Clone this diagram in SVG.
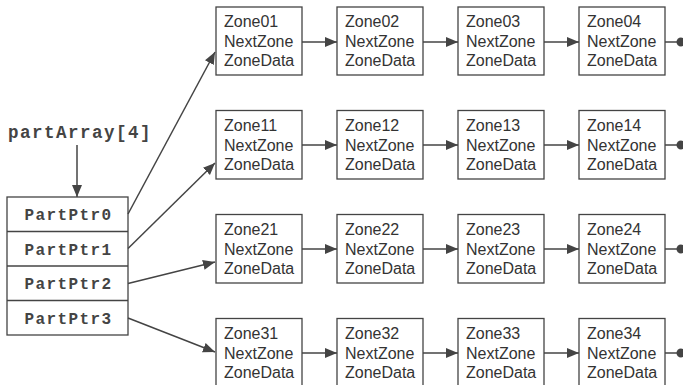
<svg xmlns="http://www.w3.org/2000/svg" width="683" height="385" viewBox="0 0 683 385">
<defs>
<style>
.box{fill:#fff;stroke:#444;stroke-width:1.3}
.zt{font-family:"Liberation Sans",Arial,sans-serif;font-size:16px;fill:#333}
.mono{font-family:"Liberation Mono","Courier New",monospace;font-weight:bold;fill:#444}
.cell{font-size:16px;letter-spacing:1.4px}
.lbl{font-size:17.5px;letter-spacing:1.5px}
.ln{stroke:#444;stroke-width:1.5;fill:none}
.arr{marker-end:url(#ah)}
.nul{marker-end:url(#dot)}
</style>
<marker id="ah" markerUnits="userSpaceOnUse" markerWidth="14" markerHeight="12" refX="12" refY="5" orient="auto"><path d="M0,0 L12,5 L0,10 z" fill="#444"/></marker>
<marker id="dot" markerUnits="userSpaceOnUse" markerWidth="10" markerHeight="10" refX="1" refY="5" orient="auto"><circle cx="5" cy="5" r="4.5" fill="#444"/></marker>
</defs>

<g id="label"><text class="mono lbl" x="8" y="138">partArray[4]</text></g>

<g id="partArray">
<rect class="box" x="7" y="197" width="121" height="138"/>
<line class="ln" x1="7" y1="231.5" x2="128" y2="231.5" style="stroke-width:1.3"/>
<line class="ln" x1="7" y1="266" x2="128" y2="266" style="stroke-width:1.3"/>
<line class="ln" x1="7" y1="300.5" x2="128" y2="300.5" style="stroke-width:1.3"/>
<text class="mono cell" x="68.5" y="220" text-anchor="middle">PartPtr0</text>
<text class="mono cell" x="68.5" y="254.5" text-anchor="middle">PartPtr1</text>
<text class="mono cell" x="68.5" y="289" text-anchor="middle">PartPtr2</text>
<text class="mono cell" x="68.5" y="323.5" text-anchor="middle">PartPtr3</text>
</g>

<g id="z01"><rect class="box" x="216" y="7" width="86" height="68"/><text class="zt" x="224" y="27">Zone01</text><text class="zt" x="224" y="47">NextZone</text><text class="zt" x="224" y="66">ZoneData</text></g>
<g id="z02"><rect class="box" x="337" y="7" width="86" height="68"/><text class="zt" x="345" y="27">Zone02</text><text class="zt" x="345" y="47">NextZone</text><text class="zt" x="345" y="66">ZoneData</text></g>
<g id="z03"><rect class="box" x="458" y="7" width="86" height="68"/><text class="zt" x="466" y="27">Zone03</text><text class="zt" x="466" y="47">NextZone</text><text class="zt" x="466" y="66">ZoneData</text></g>
<g id="z04"><rect class="box" x="579" y="7" width="86" height="68"/><text class="zt" x="587" y="27">Zone04</text><text class="zt" x="587" y="47">NextZone</text><text class="zt" x="587" y="66">ZoneData</text></g>

<g id="z11"><rect class="box" x="216" y="110.5" width="86" height="68.5"/><text class="zt" x="224" y="130.5">Zone11</text><text class="zt" x="224" y="150.5">NextZone</text><text class="zt" x="224" y="169.5">ZoneData</text></g>
<g id="z12"><rect class="box" x="337" y="110.5" width="86" height="68.5"/><text class="zt" x="345" y="130.5">Zone12</text><text class="zt" x="345" y="150.5">NextZone</text><text class="zt" x="345" y="169.5">ZoneData</text></g>
<g id="z13"><rect class="box" x="458" y="110.5" width="86" height="68.5"/><text class="zt" x="466" y="130.5">Zone13</text><text class="zt" x="466" y="150.5">NextZone</text><text class="zt" x="466" y="169.5">ZoneData</text></g>
<g id="z14"><rect class="box" x="579" y="110.5" width="86" height="68.5"/><text class="zt" x="587" y="130.5">Zone14</text><text class="zt" x="587" y="150.5">NextZone</text><text class="zt" x="587" y="169.5">ZoneData</text></g>

<g id="z21"><rect class="box" x="216" y="214.5" width="86" height="68.5"/><text class="zt" x="224" y="234.5">Zone21</text><text class="zt" x="224" y="254.5">NextZone</text><text class="zt" x="224" y="273.5">ZoneData</text></g>
<g id="z22"><rect class="box" x="337" y="214.5" width="86" height="68.5"/><text class="zt" x="345" y="234.5">Zone22</text><text class="zt" x="345" y="254.5">NextZone</text><text class="zt" x="345" y="273.5">ZoneData</text></g>
<g id="z23"><rect class="box" x="458" y="214.5" width="86" height="68.5"/><text class="zt" x="466" y="234.5">Zone23</text><text class="zt" x="466" y="254.5">NextZone</text><text class="zt" x="466" y="273.5">ZoneData</text></g>
<g id="z24"><rect class="box" x="579" y="214.5" width="86" height="68.5"/><text class="zt" x="587" y="234.5">Zone24</text><text class="zt" x="587" y="254.5">NextZone</text><text class="zt" x="587" y="273.5">ZoneData</text></g>

<g id="z31"><rect class="box" x="216" y="318.5" width="86" height="68.5"/><text class="zt" x="224" y="338.5">Zone31</text><text class="zt" x="224" y="358.5">NextZone</text><text class="zt" x="224" y="377.5">ZoneData</text></g>
<g id="z32"><rect class="box" x="337" y="318.5" width="86" height="68.5"/><text class="zt" x="345" y="338.5">Zone32</text><text class="zt" x="345" y="358.5">NextZone</text><text class="zt" x="345" y="377.5">ZoneData</text></g>
<g id="z33"><rect class="box" x="458" y="318.5" width="86" height="68.5"/><text class="zt" x="466" y="338.5">Zone33</text><text class="zt" x="466" y="358.5">NextZone</text><text class="zt" x="466" y="377.5">ZoneData</text></g>
<g id="z34"><rect class="box" x="579" y="318.5" width="86" height="68.5"/><text class="zt" x="587" y="338.5">Zone34</text><text class="zt" x="587" y="358.5">NextZone</text><text class="zt" x="587" y="377.5">ZoneData</text></g>

<g id="connectors">
<line class="ln arr" x1="77" y1="145" x2="77" y2="197"/>
<line class="ln arr" x1="128" y1="214" x2="215" y2="52"/>
<line class="ln arr" x1="128" y1="248.5" x2="215" y2="163"/>
<line class="ln arr" x1="128" y1="283.5" x2="215" y2="262"/>
<line class="ln arr" x1="128" y1="318" x2="215" y2="352"/>

<line class="ln arr" x1="302" y1="42" x2="337" y2="42"/>
<line class="ln arr" x1="423" y1="42" x2="458" y2="42"/>
<line class="ln arr" x1="544" y1="42" x2="579" y2="42"/>
<line class="ln nul" x1="665" y1="42" x2="677" y2="42"/>

<line class="ln arr" x1="302" y1="145" x2="337" y2="145"/>
<line class="ln arr" x1="423" y1="145" x2="458" y2="145"/>
<line class="ln arr" x1="544" y1="145" x2="579" y2="145"/>
<line class="ln nul" x1="665" y1="145" x2="677" y2="145"/>

<line class="ln arr" x1="302" y1="249" x2="337" y2="249"/>
<line class="ln arr" x1="423" y1="249" x2="458" y2="249"/>
<line class="ln arr" x1="544" y1="249" x2="579" y2="249"/>
<line class="ln nul" x1="665" y1="249" x2="677" y2="249"/>

<line class="ln arr" x1="302" y1="353" x2="337" y2="353"/>
<line class="ln arr" x1="423" y1="353" x2="458" y2="353"/>
<line class="ln arr" x1="544" y1="353" x2="579" y2="353"/>
<line class="ln nul" x1="665" y1="353" x2="677" y2="353"/>
</g>
</svg>
